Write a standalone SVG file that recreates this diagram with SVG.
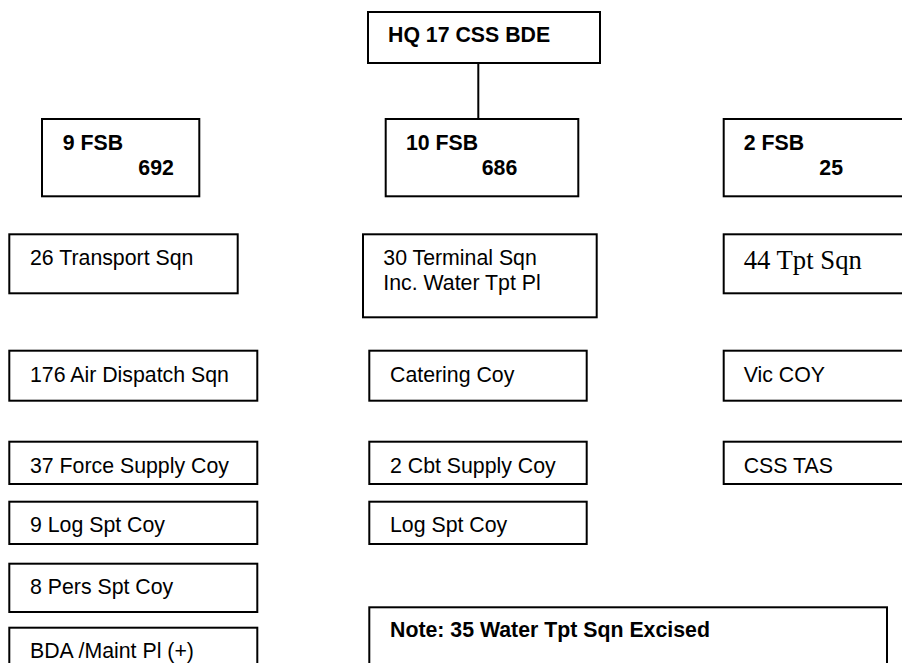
<svg xmlns="http://www.w3.org/2000/svg" width="902" height="663" viewBox="0 0 902 663">
<style>
.box{fill:#fff;stroke:#000;stroke-width:2}
.t{font-family:"Liberation Sans",Arial,sans-serif;font-size:21.3px;fill:#000}
.b{font-weight:bold}
.tr{font-family:"Liberation Serif","Times New Roman",serif;font-size:26.7px;fill:#000}
.conn{stroke:#000;stroke-width:2;fill:none}
</style>
<rect width="902" height="663" fill="#fff"/>
<g id="connectors">
<line class="conn" x1="478.3" y1="63" x2="478.3" y2="119"/>
</g>
<g id="hq">
<rect class="box" x="368" y="12" width="232" height="51"/>
<text class="t b" x="388" y="41.7">HQ 17 CSS BDE</text>
</g>
<g id="fsb9">
<rect class="box" x="42" y="119" width="157.3" height="77.3"/>
<text class="t b" x="62.7" y="150">9 FSB</text>
<text class="t b" x="138.3" y="175">692</text>
</g>
<g id="fsb10">
<rect class="box" x="385.7" y="119" width="192.6" height="77.3"/>
<text class="t b" x="406" y="150">10 FSB</text>
<text class="t b" x="481.7" y="175">686</text>
</g>
<g id="fsb2">
<rect class="box" x="723.7" y="119" width="200" height="77.3"/>
<text class="t b" x="743.7" y="150">2 FSB</text>
<text class="t b" x="819.3" y="175">25</text>
</g>
<g id="sqn26">
<rect class="box" x="9.3" y="234.3" width="228.4" height="59"/>
<text class="t" x="30" y="265">26 Transport Sqn</text>
</g>
<g id="sqn30">
<rect class="box" x="363" y="234.3" width="233.7" height="83"/>
<text class="t" x="383.3" y="265">30 Terminal Sqn</text>
<text class="t" x="383.3" y="290">Inc. Water Tpt Pl</text>
</g>
<g id="sqn44">
<rect class="box" x="723.7" y="234.3" width="200" height="59"/>
<text class="tr" x="743.7" y="269.3">44 Tpt Sqn</text>
</g>
<g id="sqn176">
<rect class="box" x="9.3" y="350.7" width="248" height="50"/>
<text class="t" x="30" y="381.7">176 Air Dispatch Sqn</text>
</g>
<g id="coy37">
<rect class="box" x="9.3" y="441.7" width="248" height="42.3"/>
<text class="t" x="30" y="472.7">37 Force Supply Coy</text>
</g>
<g id="coy9log">
<rect class="box" x="9.3" y="501.7" width="248" height="42.3"/>
<text class="t" x="30" y="532.3">9 Log Spt Coy</text>
</g>
<g id="coy8pers">
<rect class="box" x="9.3" y="563.7" width="248" height="48.3"/>
<text class="t" x="30" y="594">8 Pers Spt Coy</text>
</g>
<g id="bda">
<rect class="box" x="9.3" y="627.7" width="248" height="60"/>
<text class="t" x="30" y="658.3">BDA /Maint Pl (+)</text>
</g>
<g id="catering">
<rect class="box" x="369.3" y="350.7" width="217.4" height="50"/>
<text class="t" x="390" y="381.7">Catering Coy</text>
</g>
<g id="cbt2">
<rect class="box" x="369.3" y="441.7" width="217.4" height="42.3"/>
<text class="t" x="390" y="472.7">2 Cbt Supply Coy</text>
</g>
<g id="logspt">
<rect class="box" x="369.3" y="501.7" width="217.4" height="42.3"/>
<text class="t" x="390" y="532.3">Log Spt Coy</text>
</g>
<g id="note">
<rect class="box" x="369.3" y="607.3" width="517.7" height="80"/>
<text class="t b" x="390" y="637.3">Note: 35 Water Tpt Sqn Excised</text>
</g>
<g id="vic">
<rect class="box" x="723.7" y="350.7" width="200" height="50"/>
<text class="t" x="743.7" y="381.7">Vic COY</text>
</g>
<g id="csstas">
<rect class="box" x="723.7" y="441.7" width="200" height="42.3"/>
<text class="t" x="743.7" y="472.7">CSS TAS</text>
</g>
</svg>
